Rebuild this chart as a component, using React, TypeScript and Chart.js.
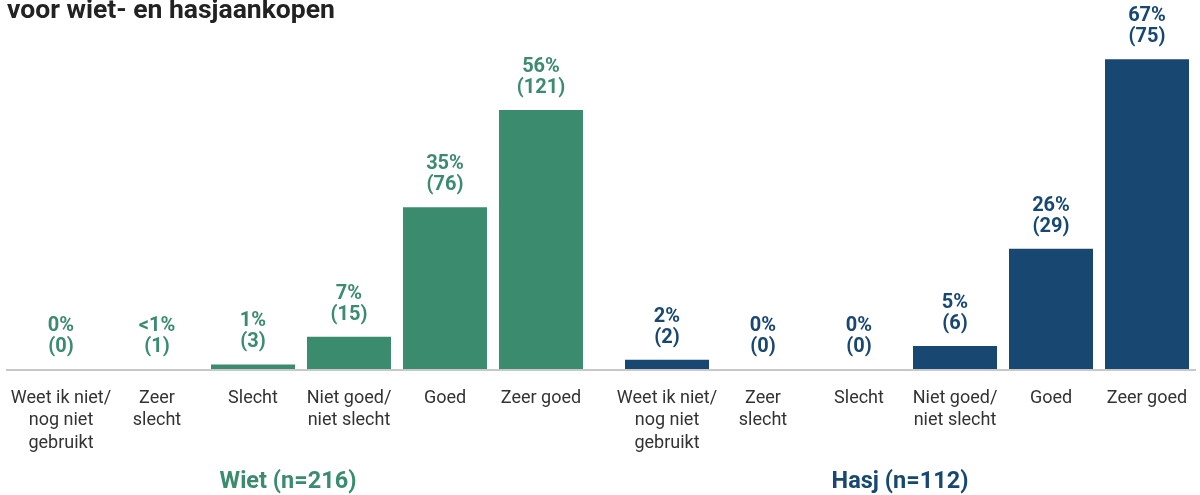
import React, { useEffect, useRef } from "react";
import { Chart, registerables } from "chart.js";

Chart.register(...registerables);

// ---------- data ----------
const categories: (string | string[])[] = [
  ["Weet ik niet/", "nog niet", "gebruikt"],
  ["Zeer", "slecht"],
  "Slecht",
  ["Niet goed/", "niet slecht"],
  "Goed",
  "Zeer goed",
];
const wietValues = [0, 0, 1, 7, 35, 56];
const wietPctLabels = ["0%", "<1%", "1%", "7%", "35%", "56%"];
const wietCounts = [0, 1, 3, 15, 76, 121];
const hasjValues = [2, 0, 0, 5, 26, 67];
const hasjPctLabels = ["2%", "0%", "0%", "5%", "26%", "67%"];
const hasjCounts = [2, 0, 0, 6, 29, 75];
const groupLabels = ["Wiet (n=216)", "Hasj (n=112)"];
const titleText = "voor wiet- en hasjaankopen";
const yMax = 72;

const GREEN = "#3b8b6e";
const NAVY = "#184772";
const FONT = "Roboto, 'Noto Sans', sans-serif";

type PanelProps = {
  values: number[];
  pctLabels: string[];
  counts: number[];
  color: string;
  groupLabel: string;
  groupX: number;
  left: number;
  width: number;
  padLeft: number;
  padRight: number;
  lineFrom: number;
  lineTo: number;
  title?: string;
};

function Panel(p: PanelProps) {
  const ref = useRef<HTMLCanvasElement | null>(null);
  useEffect(() => {
    if (!ref.current) return;
    const plugin = {
      id: "panelDecor",
      afterDatasetsDraw(chart: any) {
        const ctx = chart.ctx as CanvasRenderingContext2D;
        const area = chart.chartArea;
        ctx.save();
        // baseline
        ctx.fillStyle = "#c8c8c8";
        ctx.fillRect(p.lineFrom, area.bottom, p.lineTo - p.lineFrom, 2);
        // value labels
        const meta = chart.getDatasetMeta(0);
        ctx.fillStyle = p.color;
        ctx.font = `bold 20px ${FONT}`;
        ctx.textAlign = "center";
        ctx.textBaseline = "middle";
        meta.data.forEach((el: any, i: number) => {
          const top = el.y;
          ctx.fillText(p.pctLabels[i], el.x, top - 43);
          ctx.fillText(`(${p.counts[i]})`, el.x, top - 22);
        });
        // group label
        ctx.font = `bold 23.5px ${FONT}`;
        ctx.textBaseline = "alphabetic";
        ctx.fillText(p.groupLabel, p.groupX, 488);
        // title
        if (p.title) {
          ctx.fillStyle = "#222222";
          ctx.font = `bold 26.5px ${FONT}`;
          ctx.textAlign = "left";
          ctx.fillText(p.title, 7, 18);
        }
        ctx.restore();
      },
    };
    const chart = new Chart(ref.current, {
      type: "bar",
      data: {
        labels: categories,
        datasets: [
          {
            data: p.values,
            backgroundColor: p.color,
            borderWidth: 0,
            barPercentage: 0.875,
            categoryPercentage: 1,
          },
        ],
      },
      options: {
        responsive: false,
        animation: false,
        layout: { padding: { left: p.padLeft, right: p.padRight, top: 36, bottom: 0 } },
        plugins: { legend: { display: false }, tooltip: { enabled: false } },
        scales: {
          x: {
            grid: { display: false, drawTicks: false },
            border: { display: false },
            ticks: {
              padding: 18,
              color: "#333333",
              font: { family: FONT, size: 18, lineHeight: 1.25 },
              maxRotation: 0,
              autoSkip: false,
            },
            afterFit(scale: any) {
              scale.height = 126;
              scale.paddingLeft = 0;
              scale.paddingRight = 0;
            },
          },
          y: {
            display: false,
            min: 0,
            max: yMax,
          },
        },
      },
      plugins: [plugin],
    } as any);
    return () => chart.destroy();
  }, []);
  return (
    <canvas
      ref={ref}
      width={p.width}
      height={495}
      style={{ position: "absolute", left: p.left, top: 0, width: p.width, height: 495 }}
    />
  );
}

export default function App() {
  return (
    <div style={{ position: "absolute", left: 0, top: 0, width: 1200, height: 495, background: "#fff", overflow: "hidden" }}>
      <Panel
        values={wietValues}
        pctLabels={wietPctLabels}
        counts={wietCounts}
        color={GREEN}
        groupLabel={groupLabels[0]}
        groupX={288}
        left={0}
        width={604}
        padLeft={13}
        padRight={15}
        lineFrom={6}
        lineTo={604}
        title={titleText}
      />
      <Panel
        values={hasjValues}
        pctLabels={hasjPctLabels}
        counts={hasjCounts}
        color={NAVY}
        groupLabel={groupLabels[1]}
        groupX={296}
        left={604}
        width={596}
        padLeft={15}
        padRight={5}
        lineFrom={0}
        lineTo={592}
      />
    </div>
  );
}
